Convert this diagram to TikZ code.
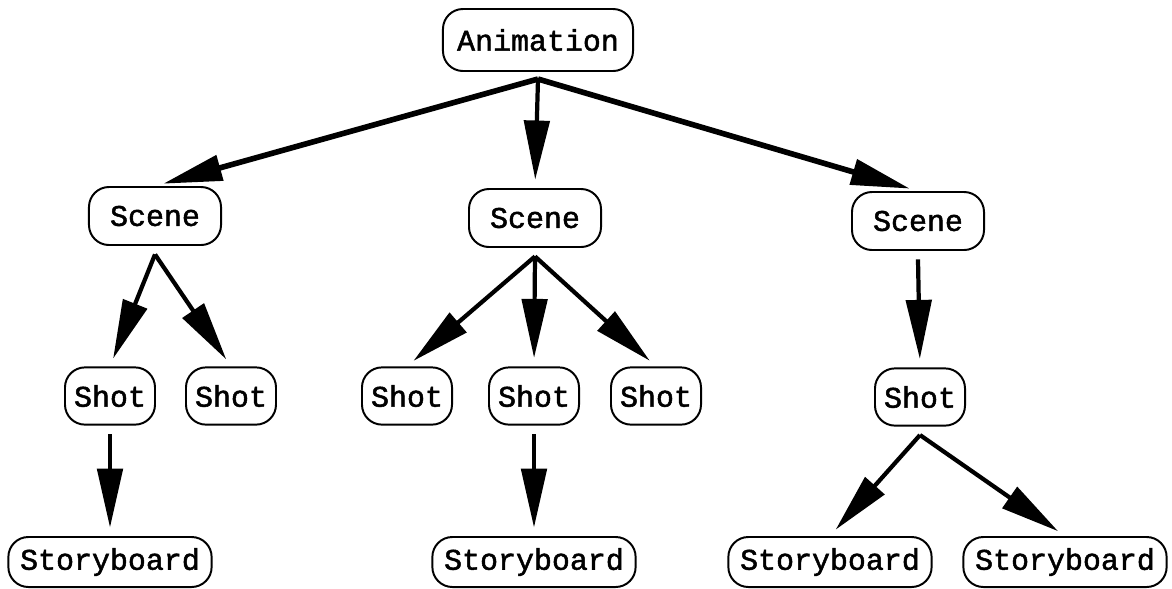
\documentclass[tikz,border=0pt]{standalone}
\usepackage{fontspec}
\newfontfamily\boxfont[FakeBold=1.6]{Liberation Mono}
\usetikzlibrary{arrows.meta}

\tikzset{
    Box/.style = {draw, line width=1.4pt, rounded corners=0.5cm, inner xsep=0.2cm,
        font=\boxfont\fontsize{21.3}{24}\selectfont},
    Anim/.style = {Box, minimum width=4.75cm, minimum height=1.55cm},
    Scene/.style = {Box, minimum width=3.3cm, minimum height=1.45cm},
    Shot/.style = {Box, minimum width=2.25cm, minimum height=1.43cm},
    Story/.style = {Box, minimum width=5.08cm, minimum height=1.25cm},
    EdgeStyle/.style = {line width=3pt, -{Triangle[length=42pt,width=18pt]}, shorten >=6pt}
}

\begin{document}
\begin{tikzpicture}[x=0.025cm, y=-0.025cm]
    \useasboundingbox (0,0) rectangle (1172,588);

    \node[Anim]  (A)   at (538,40)  {Animation};
    \node[Scene] (Sc1) at (155,216) {Scene};
    \node[Scene] (Sc2) at (535,218) {Scene};
    \node[Scene] (Sc3) at (918,221) {Scene};

    \node[Shot] (Sh1) at (110,396) {Shot};
    \node[Shot] (Sh2) at (231,396) {Shot};
    \node[Shot] (Sh3) at (407,396) {Shot};
    \node[Shot] (Sh4) at (534,396) {Shot};
    \node[Shot] (Sh5) at (656,396) {Shot};
    \node[Shot] (Sh6) at (920,397) {Shot};

    \node[Story] (Sb1) at (110,562)  {Storyboard};
    \node[Story] (Sb2) at (534,562)  {Storyboard};
    \node[Story] (Sb3) at (830,562)  {Storyboard};
    \node[Story] (Sb4) at (1065,562) {Storyboard};

    \coordinate (a)  at ([yshift=-5pt]A.south);
    \coordinate (c1) at ([yshift=-6pt]Sc1.south);
    \coordinate (c2) at ([yshift=-6pt]Sc2.south);
    \coordinate (c3) at ([yshift=-6pt]Sc3.south);
    \coordinate (h1) at ([yshift=-6pt]Sh1.south);
    \coordinate (h4) at ([yshift=-6pt]Sh4.south);
    \coordinate (h6) at ([yshift=-6pt]Sh6.south);

    \draw[EdgeStyle, line width=4pt] (a) -- (Sc1.north);
    \draw[EdgeStyle] (a) -- (Sc2.north);
    \draw[EdgeStyle, line width=4pt] (a) -- (Sc3.north);

    \draw[EdgeStyle] (c1) -- (Sh1.north);
    \draw[EdgeStyle] (c1) -- (Sh2.north);
    \draw[EdgeStyle] (c2) -- (Sh3.north);
    \draw[EdgeStyle] (c2) -- (Sh4.north);
    \draw[EdgeStyle] (c2) -- (Sh5.north);
    \draw[EdgeStyle] (c3) -- (Sh6.north);

    \draw[EdgeStyle] (h1) -- (Sb1.north);
    \draw[EdgeStyle] (h4) -- (Sb2.north);
    \draw[EdgeStyle] (h6) -- (Sb3.north);
    \draw[EdgeStyle] (h6) -- (Sb4.north);
\end{tikzpicture}
\end{document}
